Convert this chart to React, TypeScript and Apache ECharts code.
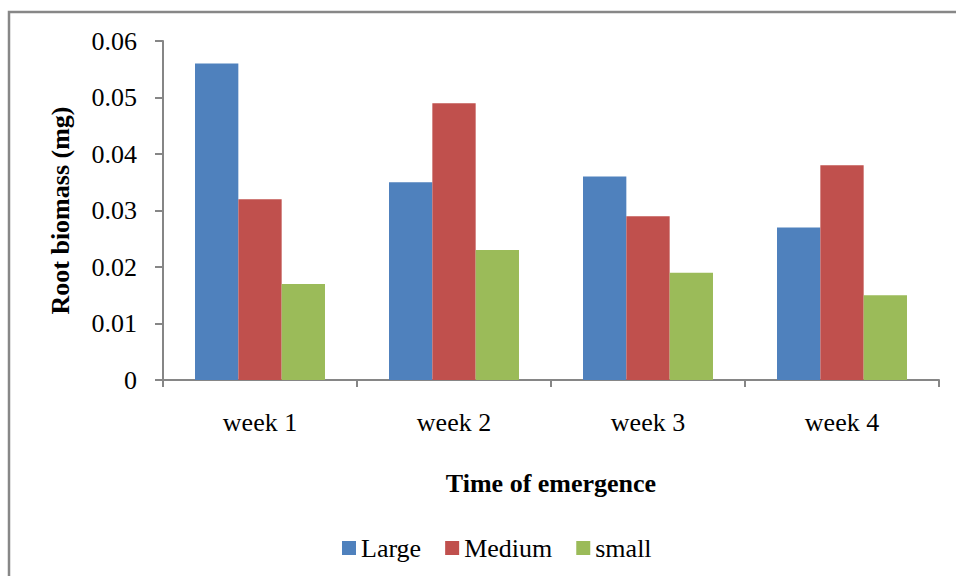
import React, { useEffect, useRef } from "react";
import * as echarts from "echarts";

const categories = ["week 1", "week 2", "week 3", "week 4"];
const seriesNames = ["Large", "Medium", "small"];
const largeValues = [0.056, 0.035, 0.036, 0.027];
const mediumValues = [0.032, 0.049, 0.029, 0.038];
const smallValues = [0.017, 0.023, 0.019, 0.015];
const colors = ["#4F81BD", "#C0504D", "#9BBB59"];

const FONT = "Liberation Serif";
const AXIS_COLOR = "#868686";

export default function App() {
  const ref = useRef<HTMLDivElement>(null);
  useEffect(() => {
    if (!ref.current) return;
    const chart = echarts.init(ref.current, undefined, { renderer: "svg" });
    const data = [largeValues, mediumValues, smallValues];
    chart.setOption({
      animation: false,
      backgroundColor: "#ffffff",
      textStyle: { fontFamily: FONT, color: "#000" },
      graphic: [
        {
          type: "rect",
          shape: { x: 9, y: 12, width: 1200, height: 1200 },
          style: { fill: "none", stroke: "#878787", lineWidth: 2.5 },
          silent: true,
        },
      ],
      legend: {
        left: 337,
        top: 530,
        itemWidth: 14,
        itemHeight: 14,
        itemGap: 24,
        icon: "rect",
        data: seriesNames,
        textStyle: { fontFamily: FONT, fontSize: 26, color: "#000" },
      },
      grid: { left: 163, right: 17, top: 41, bottom: 196, containLabel: false },
      xAxis: {
        type: "category",
        data: categories,
        name: "Time of emergence",
        nameLocation: "middle",
        nameGap: 90,
        nameTextStyle: { fontFamily: FONT, fontSize: 26, fontWeight: "bold", color: "#000" },
        axisLine: { show: true, lineStyle: { color: AXIS_COLOR, width: 2 } },
        axisTick: { show: true, length: 7, lineStyle: { color: AXIS_COLOR, width: 2 } },
        axisLabel: { fontFamily: FONT, fontSize: 26, color: "#000", margin: 29 },
        splitLine: { show: false },
      },
      yAxis: {
        type: "value",
        min: 0,
        max: 0.06,
        interval: 0.01,
        name: "Root biomass (mg)",
        nameLocation: "middle",
        nameGap: 90,
        nameRotate: 90,
        nameTextStyle: { fontFamily: FONT, fontSize: 26, fontWeight: "bold", color: "#000" },
        axisLine: { show: true, lineStyle: { color: AXIS_COLOR, width: 2 } },
        axisTick: { show: true, length: 8, lineStyle: { color: AXIS_COLOR, width: 2 } },
        axisLabel: {
          fontFamily: FONT,
          fontSize: 26,
          color: "#000",
          margin: 26,
          formatter: (v: number) => (v === 0 ? "0" : v.toFixed(2)),
        },
        splitLine: { show: false },
      },
      series: seriesNames.map((name, i) => ({
        name,
        type: "bar",
        data: data[i],
        barGap: "0%",
        barCategoryGap: "33%",
        itemStyle: { color: colors[i] },
      })),
    });
    return () => chart.dispose();
  }, []);
  return (
    <div
      ref={ref}
      style={{ position: "fixed", left: 0, top: 0, width: 956, height: 576 }}
    />
  );
}
